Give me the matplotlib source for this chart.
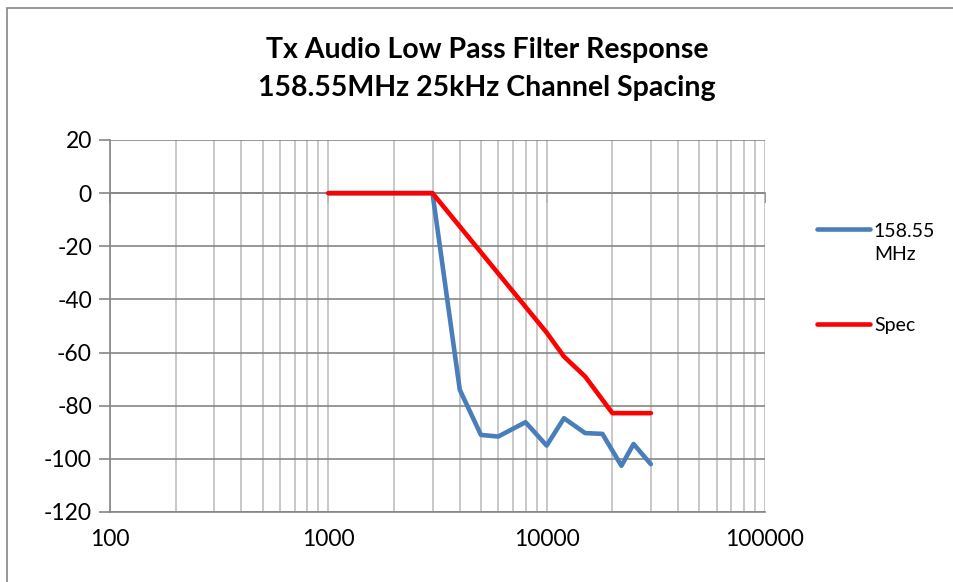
import matplotlib
matplotlib.use("Agg")
import matplotlib.pyplot as plt
from matplotlib.patches import Rectangle

plt.rcParams['font.family'] = ['Lato', 'DejaVu Sans']
plt.rcParams['axes.unicode_minus'] = False

# measured response (Hz, dB)
freq_meas = [1000, 3000, 4000, 5000, 6000, 8000, 10000, 12000, 15000, 18000, 22000, 25000, 30000]
resp_meas = [0, 0, -74, -91, -91.6, -86.2, -95, -84.7, -90.3, -90.6, -102.6, -94.4, -102]

# spec mask
freq_spec = [1000, 3000, 10000, 12000, 15000, 20000, 30000]
resp_spec = [0, 0, -52.5, -61.5, -69, -82.8, -82.8]

x_ticks = [100, 1000, 10000, 100000]
y_ticks = [20, 0, -20, -40, -60, -80, -100, -120]

fig = plt.figure(figsize=(9.54, 5.82), dpi=100)
ax = fig.add_axes([110/954, 1-512/582, 655/954, 372/582])

l1, = ax.plot(freq_meas, resp_meas, color='#4a7ebb', lw=3.3, solid_capstyle='round')
l2, = ax.plot(freq_spec, resp_spec, color='#ff0000', lw=3.3, solid_capstyle='round')

ax.set_xscale('log')
ax.set_xlim(100, 100000)
ax.set_ylim(-120, 20)
ax.set_xticks(x_ticks)
ax.set_xticklabels([str(t) for t in x_ticks])
ax.set_yticks(y_ticks)
ax.tick_params(axis='x', length=0, pad=12, labelsize=16.5)
ax.tick_params(axis='y', length=8, width=1.2, color='#868686', pad=5, labelsize=16.5)
ax.tick_params(axis='x', which='minor', length=0)

ax.grid(True, axis='x', which='both', color='#bfbfbf', lw=1.2)
ax.grid(True, axis='y', which='major', color='#868686', lw=1.2)
ax.set_axisbelow(True)
for s in ['top', 'right']:
    ax.spines[s].set_visible(False)
for s in ['left', 'bottom']:
    ax.spines[s].set_color('#868686')
    ax.spines[s].set_linewidth(1.2)

# horizontal axis line at 0 dB with tick marks
sec = ax.secondary_xaxis(120/140)
sec.set_xticks(x_ticks)
sec.xaxis.set_minor_locator(matplotlib.ticker.NullLocator())
sec.xaxis.set_ticks_position('bottom')
sec.tick_params(length=7, width=1.2, color='#868686', labelbottom=False, labeltop=False)
for s in sec.spines.values():
    s.set_visible(False)
sec.spines['bottom'].set_visible(True)
sec.spines['bottom'].set_color('#868686')
sec.spines['bottom'].set_linewidth(1.2)

fig.suptitle('Tx Audio Low Pass Filter Response\n158.55MHz 25kHz Channel Spacing',
             x=487/954, y=1-37/582, fontsize=20.5, fontweight='bold', linespacing=1.55)

leg = fig.legend([l1, l2], ['158.55\nMHz', 'Spec'], loc='upper left',
                 bbox_to_anchor=(800/954, 1-205/582), frameon=False, fontsize=14,
                 handlelength=2.7, handletextpad=0.2, labelspacing=2.8)
leg.get_texts()[0].set_linespacing(1.45)
for hp in leg._legend_handle_box.get_children()[0].get_children():
    hp.align = 'top'

fig.add_artist(Rectangle((7/954, -0.1), 1.2, 1.1 - 8/582, transform=fig.transFigure,
                         fill=False, edgecolor='#868686', lw=1.2))

fig.savefig('out.png', dpi=100)
